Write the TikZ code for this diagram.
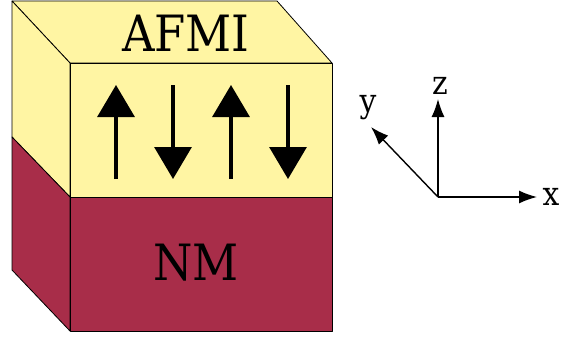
\documentclass[tikz,border=0pt]{standalone}
\usepackage{fontspec}
\setmainfont{DejaVu Serif Condensed}
\usetikzlibrary{arrows.meta}
\definecolor{afmiyellow}{RGB}{255,245,163}
\definecolor{nmred}{RGB}{168,45,73}
\tikzset{
  face/.style={draw=black, line width=0.8pt, line join=round},
  spin/.style={line width=3.2pt, -{Triangle[width=37pt,length=32pt]}},
  axis/.style={line width=1.4pt, -{Latex[width=13pt,length=18pt]}},
  bigtext/.style={font=\fontsize{50}{50}\selectfont, inner sep=0pt, anchor=base},
  axtext/.style={font=\fontsize{33}{33}\selectfont, inner sep=0pt, anchor=base},
}
\begin{document}
\begin{tikzpicture}[x=1pt,y=-1pt]
  \useasboundingbox (0,0) rectangle (561,337);
  % cube corners
  \coordinate (btl) at (12,1);
  \coordinate (btr) at (277,1);
  \coordinate (bml) at (12,137);
  \coordinate (bbl) at (12,270);
  \coordinate (ftl) at (70,63);
  \coordinate (ftr) at (332,63);
  \coordinate (fml) at (70,197);
  \coordinate (fmr) at (332,197);
  \coordinate (fbl) at (70,331);
  \coordinate (fbr) at (332,331);
  % top face
  \path[face, fill=afmiyellow] (btl) -- (btr) -- (ftr) -- (ftl) -- cycle;
  % left face
  \path[face, fill=afmiyellow] (btl) -- (ftl) -- (fml) -- (bml) -- cycle;
  \path[face, fill=nmred] (bml) -- (fml) -- (fbl) -- (bbl) -- cycle;
  % front face
  \path[face, fill=afmiyellow] (ftl) rectangle (fmr);
  \path[face, fill=nmred] (fml) rectangle (fbr);
  % labels
  \node[bigtext] (afmi) at (186,52) {AFMI};
  \node[bigtext] (nm) at (196,280) {NM};
  % spins
  \foreach \i/\x in {1/116,3/231} {
    \coordinate (s\i a) at (\x,179);
    \coordinate (s\i b) at (\x,85);
    \draw[spin] (s\i a) -- (s\i b);
  }
  \foreach \i/\x in {2/173,4/288} {
    \coordinate (s\i a) at (\x,85);
    \coordinate (s\i b) at (\x,179);
    \draw[spin] (s\i a) -- (s\i b);
  }
  % axes
  \coordinate (o) at (438,197);
  \coordinate (xe) at (537,197);
  \coordinate (ze) at (438,99);
  \coordinate (ye) at (371,127);
  \draw[axis] (o) -- (xe);
  \draw[axis] (o) -- (ze);
  \draw[axis] (o) -- (ye);
  \node[axtext] (xl) at (551,205) {x};
  \node[axtext] (zl) at (440,94) {z};
  \node[axtext] (yl) at (368,112) {y};
\end{tikzpicture}
\end{document}
